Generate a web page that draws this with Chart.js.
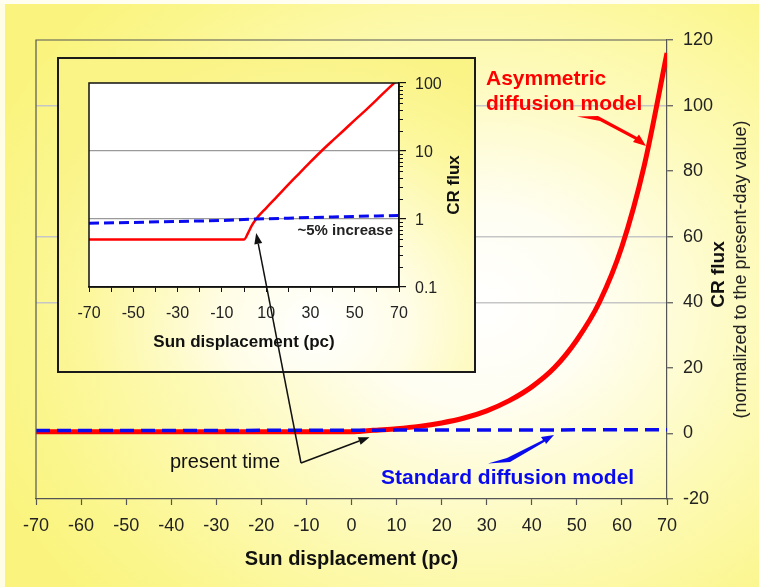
<!DOCTYPE html>
<html>
<head>
<meta charset="utf-8">
<script src="https://cdn.jsdelivr.net/npm/chart.js@4.4.1/dist/chart.umd.min.js"></script>
<style>
  html, body { margin: 0; padding: 0; }
  body {
    width: 759px; height: 587px; overflow: hidden; position: relative;
    background: radial-gradient(ellipse 70% 75% at 63% 52%, #ffffff 0%, #fffef2 22%, #fdfab8 55%, #fbf68c 85%, #faf47e 100%);
  }
  #edgeL { position: absolute; left: 0; top: 0; width: 5px; height: 587px; background: #fffde4; }
  #edgeT { position: absolute; left: 0; top: 0; width: 759px; height: 4px; background: #fffef0; }
  #main { position: absolute; left: 0; top: 0; }
  #insetBox {
    position: absolute; left: 57px; top: 57px; width: 419px; height: 316px;
    box-sizing: border-box; border: 2px solid #1a1a1a;
    background: radial-gradient(ellipse 75% 90% at 62% 85%, #ffffff 0%, #fffde6 30%, #fcf79a 75%, #faf386 100%);
  }
  #inset { display: block; }
  #overlay { position: absolute; left: 0; top: 0; pointer-events: none; }
</style>
</head>
<body>
<div id="edgeL"></div>
<div id="edgeT"></div>
<canvas id="main" width="759" height="587"></canvas>
<div id="insetBox"><canvas id="inset" width="415" height="312"></canvas></div>
<canvas id="overlay" width="759" height="587"></canvas>
<script>
// asymmetric diffusion model (red)
const asymX = [-70, -60, -50, -40, -30, -20, -10, 0, 1.8, 3.5, 5.5, 10, 15, 20, 25, 30, 35, 40, 45, 50, 55, 60, 65, 70];
const asymFlux = [0.5, 0.5, 0.5, 0.5, 0.5, 0.5, 0.5, 0.5, 0.62, 0.8, 1.0, 1.45, 2.15, 3.2, 4.7, 6.9, 10, 14.2, 20, 28.5, 40, 57, 82, 116];

// standard diffusion model (blue dashed), ~5% increase
const stdX = [-70, -50, -30, -10, 5.5, 20, 40, 60, 70];
const stdFlux = [0.865, 0.89, 0.92, 0.95, 1.0, 1.03, 1.07, 1.11, 1.13];

// ticks
const mainXTicks = [-70, -60, -50, -40, -30, -20, -10, 0, 10, 20, 30, 40, 50, 60, 70];
const mainYTicks = [-20, 0, 20, 40, 60, 80, 100, 120];
const mainGridAt = [40, 60, 100];
const insetXTicks = [-70, -60, -50, -40, -30, -20, -10, 0, 10, 20, 30, 40, 50, 60, 70];
const insetXLabels = [-70, -50, -30, -10, 10, 30, 50, 70];
const insetYTicks = [0.1, 1, 10, 100];
const insetGridAt = [1, 10];

Chart.defaults.font.family = "'Liberation Sans', Arial, sans-serif";

const toPts = (xs, ys) => xs.map((x, i) => ({ x: x, y: ys[i] }));

//Main chart//
const mainNotes = {
  id: 'mainNotes',
  afterDraw(chart) {
    const ctx = chart.ctx;
    const a = chart.chartArea;
    ctx.save();
    // frame top + left
    ctx.strokeStyle = '#555';
    ctx.lineWidth = 1.2;
    ctx.beginPath();
    ctx.moveTo(a.left, a.bottom);
    ctx.lineTo(a.left, a.top);
    ctx.lineTo(a.right, a.top);
    ctx.stroke();

    // axis titles
    ctx.fillStyle = '#111';
    ctx.textAlign = 'center';
    ctx.textBaseline = 'middle';
    ctx.font = "bold 20px 'Liberation Sans', Arial";
    ctx.fillText('Sun displacement (pc)', (a.left + a.right) / 2, 559);
    ctx.save();
    ctx.translate(719, (a.top + a.bottom) / 2 + 5);
    ctx.rotate(-Math.PI / 2);
    ctx.font = "bold 19px 'Liberation Sans', Arial";
    ctx.fillText('CR flux', 0, 0);
    ctx.restore();
    ctx.save();
    ctx.translate(741, (a.top + a.bottom) / 2);
    ctx.rotate(-Math.PI / 2);
    ctx.font = "18px 'Liberation Sans', Arial";
    ctx.fillStyle = '#222';
    ctx.fillText('(normalized to the present-day value)', 0, 0);
    ctx.restore();

    // labels
    ctx.textAlign = 'left';
    ctx.textBaseline = 'alphabetic';
    ctx.font = "bold 21px 'Liberation Sans', Arial";
    ctx.fillStyle = '#ff0000';
    ctx.fillText('Asymmetric', 486, 85);
    ctx.fillText('diffusion model', 486, 110);
    ctx.beginPath();
    ctx.moveTo(577, 116.5);
    ctx.lineTo(598, 116);
    ctx.lineTo(637, 137);
    ctx.lineTo(639, 134.5);
    ctx.lineTo(646, 146);
    ctx.lineTo(633, 142);
    ctx.lineTo(635, 139.5);
    ctx.lineTo(600, 121);
    ctx.closePath();
    ctx.fill();

    ctx.fillStyle = '#0a0aee';
    ctx.fillText('Standard diffusion model', 381, 484);
    ctx.beginPath();
    ctx.moveTo(488, 463.5);
    ctx.lineTo(507, 458);
    ctx.lineTo(543, 440);
    ctx.lineTo(541, 437);
    ctx.lineTo(554, 435);
    ctx.lineTo(546, 444);
    ctx.lineTo(545, 441.5);
    ctx.lineTo(510, 462);
    ctx.closePath();
    ctx.fill();

    ctx.fillStyle = '#111';
    ctx.font = "20px 'Liberation Sans', Arial";
    ctx.fillText('present time', 170, 468);
    ctx.restore();
  }
};

const mainChart = new Chart(document.getElementById('main').getContext('2d'), {
  type: 'line',
  data: {
    datasets: [
      {
        label: 'Standard diffusion model',
        data: toPts(stdX, stdFlux),
        borderColor: '#0a0aee',
        borderWidth: 3.5,
        borderDash: [14, 7],
        pointRadius: 0,
        fill: false,
      },
      {
        label: 'Asymmetric diffusion model',
        data: toPts(asymX, asymFlux),
        borderColor: '#ff0000',
        borderWidth: 5,
        pointRadius: 0,
        fill: false,
        cubicInterpolationMode: 'monotone',
      },
    ],
  },
  options: {
    responsive: false,
    animation: false,
    devicePixelRatio: 1,
    layout: { padding: { left: 36, top: 40, right: 0, bottom: 0 } },
    plugins: { legend: { display: false }, tooltip: { enabled: false } },
    scales: {
      x: {
        type: 'linear',
        min: -70,
        max: 70,
        afterFit(s) { s.height = 88; },
        afterBuildTicks(s) { s.ticks = mainXTicks.map((v) => ({ value: v })); },
        ticks: { color: '#222', font: { size: 18 }, padding: 10, maxRotation: 0, autoSkip: false },
        grid: { drawOnChartArea: false, tickLength: 6, tickColor: '#555', tickWidth: 1.2 },
        border: { color: '#555', width: 1.2 },
      },
      y: {
        position: 'right',
        min: -20,
        max: 120,
        afterFit(s) { s.width = 92; },
        afterBuildTicks(s) { s.ticks = mainYTicks.map((v) => ({ value: v })); },
        ticks: { color: '#222', font: { size: 18 }, padding: 10 },
        grid: {
          color: (c) => (c.tick && mainGridAt.includes(c.tick.value) ? '#c6c6c6' : 'rgba(0,0,0,0)'),
          lineWidth: 1.5,
          tickLength: 6,
          tickColor: '#555',
          tickWidth: 1.2,
        },
        border: { color: '#555', width: 1.2 },
      },
    },
  },
  plugins: [mainNotes],
});

//Inset chart//
const insetNotes = {
  id: 'insetNotes',
  beforeDraw(chart) {
    const a = chart.chartArea;
    chart.ctx.save();
    chart.ctx.fillStyle = '#ffffff';
    chart.ctx.fillRect(a.left, a.top, a.right - a.left, a.bottom - a.top);
    chart.ctx.restore();
  },
  afterDraw(chart) {
    const ctx = chart.ctx;
    const a = chart.chartArea;
    const y = chart.scales.y;
    ctx.save();
    ctx.strokeStyle = '#111';
    ctx.lineWidth = 1.5;
    ctx.strokeRect(a.left, a.top, a.right - a.left, a.bottom - a.top);

    // minor log ticks
    ctx.lineWidth = 1;
    ctx.beginPath();
    [0.1, 1, 10].forEach((dec) => {
      for (let k = 2; k <= 9; k++) {
        const py = Math.round(y.getPixelForValue(k * dec)) + 0.5;
        ctx.moveTo(a.right, py);
        ctx.lineTo(a.right + 4, py);
      }
    });
    ctx.stroke();

    ctx.fillStyle = '#111';
    ctx.textAlign = 'center';
    ctx.textBaseline = 'middle';
    ctx.font = "bold 17px 'Liberation Sans', Arial";
    ctx.fillText('Sun displacement (pc)', (a.left + a.right) / 2, 283);
    ctx.save();
    ctx.translate(395, (a.top + a.bottom) / 2);
    ctx.rotate(-Math.PI / 2);
    ctx.fillText('CR flux', 0, 0);
    ctx.restore();

    ctx.textAlign = 'right';
    ctx.textBaseline = 'alphabetic';
    ctx.font = "bold 15px 'Liberation Sans', Arial";
    ctx.fillStyle = '#222';
    ctx.fillText('~5% increase', 334, 176);
    ctx.restore();
  },
};

const insetChart = new Chart(document.getElementById('inset').getContext('2d'), {
  type: 'line',
  data: {
    datasets: [
      {
        label: 'Standard',
        data: toPts(stdX, stdFlux),
        borderColor: '#0a0aee',
        borderWidth: 3,
        borderDash: [10, 5],
        pointRadius: 0,
        fill: false,
      },
      {
        label: 'Asymmetric',
        data: toPts(asymX, asymFlux),
        borderColor: '#ff0000',
        borderWidth: 2.5,
        pointRadius: 0,
        fill: false,
        cubicInterpolationMode: 'monotone',
      },
    ],
  },
  options: {
    responsive: false,
    animation: false,
    devicePixelRatio: 1,
    layout: { padding: { left: 30, top: 24, right: 0, bottom: 0 } },
    plugins: { legend: { display: false }, tooltip: { enabled: false } },
    scales: {
      x: {
        type: 'linear',
        min: -70,
        max: 70,
        afterFit(s) { s.height = 84; },
        afterBuildTicks(s) { s.ticks = insetXTicks.map((v) => ({ value: v })); },
        ticks: {
          color: '#222',
          font: { size: 16 },
          padding: 12,
          maxRotation: 0,
          autoSkip: false,
          callback: (v) => (insetXLabels.includes(v) ? String(v) : ''),
        },
        grid: { drawOnChartArea: false, tickLength: 5, tickColor: '#111' },
        border: { color: '#111', width: 1.5 },
      },
      y: {
        type: 'logarithmic',
        position: 'right',
        min: 0.1,
        max: 100,
        afterFit(s) { s.width = 75; },
        afterBuildTicks(s) { s.ticks = insetYTicks.map((v) => ({ value: v })); },
        ticks: { color: '#222', font: { size: 16 }, padding: 9, labelOffset: 2, callback: (v) => String(v) },
        grid: {
          color: (c) => (c.tick && insetGridAt.includes(c.tick.value) ? '#9a9a9a' : 'rgba(0,0,0,0)'),
          lineWidth: 1.2,
          tickLength: 7,
          tickColor: '#111',
        },
        border: { color: '#111', width: 1.5 },
      },
    },
  },
  plugins: [insetNotes],
});

//Present time arrows (over both charts)//
function arrow(ctx, x0, y0, x1, y1) {
  const ang = Math.atan2(y1 - y0, x1 - x0);
  const len = 11, half = 4;
  const bx = x1 - len * Math.cos(ang), by = y1 - len * Math.sin(ang);
  ctx.beginPath();
  ctx.moveTo(x0, y0);
  ctx.lineTo(bx, by);
  ctx.stroke();
  ctx.beginPath();
  ctx.moveTo(x1, y1);
  ctx.lineTo(bx - half * Math.sin(ang), by + half * Math.cos(ang));
  ctx.lineTo(bx + half * Math.sin(ang), by - half * Math.cos(ang));
  ctx.closePath();
  ctx.fill();
}

const box = document.getElementById('inset').getBoundingClientRect();
const oc = document.getElementById('overlay').getContext('2d');
oc.strokeStyle = '#111';
oc.fillStyle = '#111';
oc.lineWidth = 1.5;
const vx = 301, vy = 463;
const mainTipX = mainChart.scales.x.getPixelForValue(4);
const mainTipY = mainChart.scales.y.getPixelForValue(1) + 7;
const insetTipX = box.left + insetChart.scales.x.getPixelForValue(5.5);
const insetTipY = box.top + insetChart.scales.y.getPixelForValue(1) + 14;
arrow(oc, vx, vy, mainTipX, mainTipY);
arrow(oc, vx, vy, insetTipX, insetTipY);
</script>
</body>
</html>
